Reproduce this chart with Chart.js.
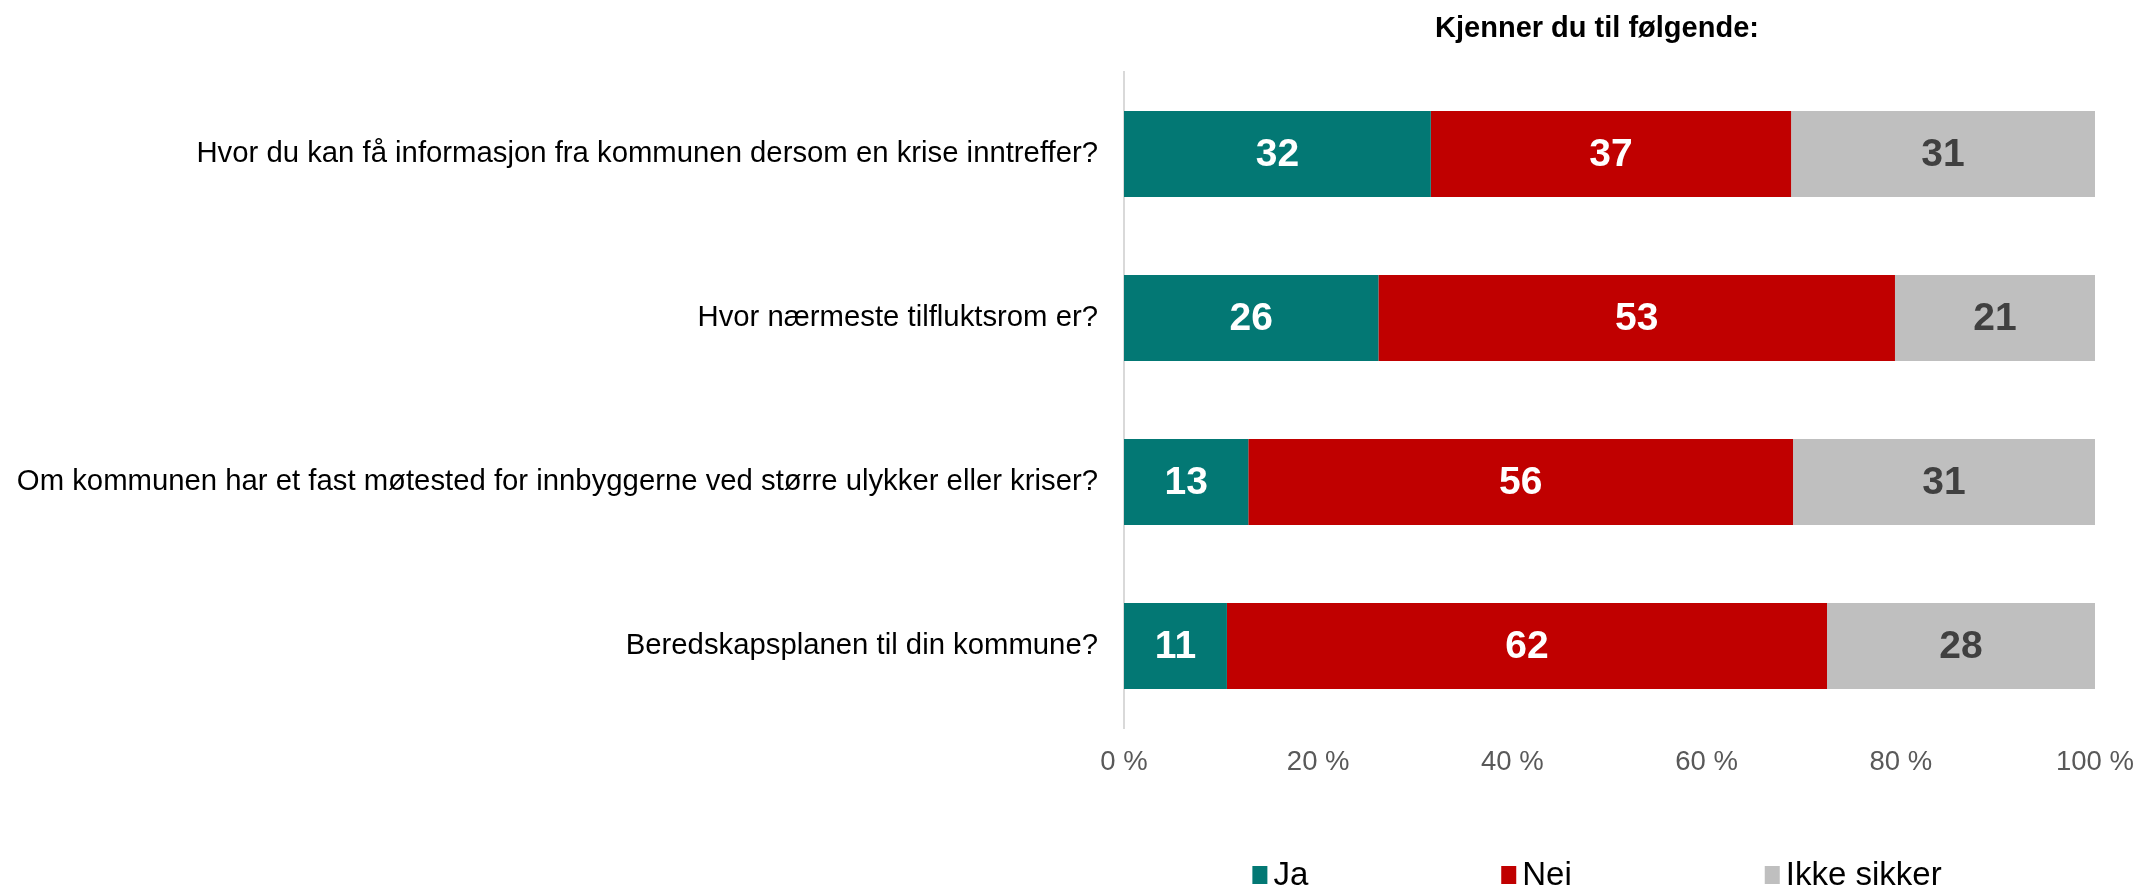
<!DOCTYPE html>
<html>
<head>
<meta charset="utf-8">
<script src="https://cdn.jsdelivr.net/npm/chart.js@4.4.1/dist/chart.umd.min.js"></script>
<style>
  html, body { margin: 0; padding: 0; background: #fff; }
  #wrap { width: 2139px; height: 889px; position: relative; }
</style>
</head>
<body>
<div id="wrap"><canvas id="kjennskap"></canvas></div>
<script>
const tittel = 'Kjenner du til følgende:';
const sporsmal = [
  'Hvor du kan få informasjon fra kommunen dersom en krise inntreffer?',
  'Hvor nærmeste tilfluktsrom er?',
  'Om kommunen har et fast møtested for innbyggerne ved større ulykker eller kriser?',
  'Beredskapsplanen til din kommune?'
];
const ja = [31.6, 26.2, 12.8, 10.6];
const nei = [37.1, 53.2, 56.1, 61.8];
const ikkeSikker = [31.3, 20.6, 31.1, 27.6];
const prosentTicks = [0, 20, 40, 60, 80, 100];

const FONT = '"Liberation Sans", Arial, Helvetica, sans-serif';
const farger = ['#037874', '#C00000', '#BFBFBF'];
const tallFarger = ['#ffffff', '#ffffff', '#404040'];

// title, value labels and legend drawn by hand
const egenTegning = {
  id: 'egenTegning',
  afterDatasetsDraw(chart) {
    const ctx = chart.ctx;
    ctx.save();
    ctx.textAlign = 'center';
    ctx.textBaseline = 'middle';
    ctx.font = 'bold 39px ' + FONT;
    chart.data.datasets.forEach((ds, i) => {
      chart.getDatasetMeta(i).data.forEach((bar, j) => {
        const p = bar.getProps(['x', 'y', 'base'], true);
        ctx.fillStyle = tallFarger[i];
        ctx.fillText(String(Math.round(ds.data[j])), (p.x + p.base) / 2, p.y + 1);
      });
    });
    ctx.restore();
  },
  afterDraw(chart) {
    const ctx = chart.ctx;
    const midt = 1597;
    ctx.save();
    ctx.textBaseline = 'middle';
    ctx.textAlign = 'center';
    ctx.fillStyle = '#000';
    ctx.font = 'bold 29px ' + FONT;
    ctx.fillText(tittel, midt, 29);

    // legend
    ctx.font = '33px ' + FONT;
    ctx.textAlign = 'left';
    const boks = 15, luft = 6, mellom = 193;
    const bredder = chart.data.datasets.map(d => boks + luft + ctx.measureText(d.label).width);
    const total = bredder.reduce((a, b) => a + b, 0) + mellom * (bredder.length - 1);
    let x = midt - total / 2;
    const y = 875;
    chart.data.datasets.forEach((d, i) => {
      ctx.fillStyle = d.backgroundColor;
      ctx.fillRect(x, y - 9, boks, 18);
      ctx.fillStyle = '#000';
      ctx.fillText(d.label, x + boks + luft, y + 1);
      x += bredder[i] + mellom;
    });
    ctx.restore();
  }
};

new Chart(document.getElementById('kjennskap'), {
  type: 'bar',
  data: {
    labels: sporsmal,
    datasets: [
      { label: 'Ja', data: ja, backgroundColor: farger[0] },
      { label: 'Nei', data: nei, backgroundColor: farger[1] },
      { label: 'Ikke sikker', data: ikkeSikker, backgroundColor: farger[2] }
    ]
  },
  options: {
    indexAxis: 'y',
    responsive: true,
    maintainAspectRatio: false,
    animation: false,
    layout: { padding: { top: 72, right: 44, bottom: 92, left: 0 } },
    datasets: { bar: { categoryPercentage: 1, barPercentage: 0.523, borderWidth: 0 } },
    plugins: {
      legend: { display: false },
      title: { display: false },
      tooltip: { enabled: false }
    },
    scales: {
      x: {
        stacked: true,
        min: 0,
        max: 100,
        afterBuildTicks: s => { s.ticks = prosentTicks.map(v => ({ value: v })); },
        afterFit: s => { s.paddingLeft = 0; s.paddingRight = 0; },
        grid: { display: false, drawTicks: false },
        border: { display: false },
        ticks: {
          padding: 18,
          color: '#595959',
          font: { family: FONT, size: 27.5 },
          callback: v => v + ' %'
        }
      },
      y: {
        stacked: true,
        afterFit: s => { s.width = 1124; },
        grid: { display: false, drawTicks: false },
        border: { display: true, color: '#d9d9d9', width: 2 },
        ticks: {
          padding: 26,
          color: '#000',
          font: { family: FONT, size: 29.3 }
        }
      }
    }
  },
  plugins: [egenTegning]
});
</script>
</body>
</html>
